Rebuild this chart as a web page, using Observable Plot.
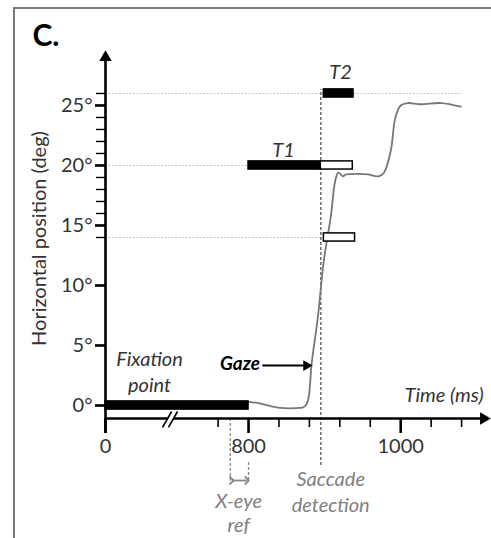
<!DOCTYPE html>
<html>
<head>
<meta charset="utf-8">
<script src="https://cdn.jsdelivr.net/npm/d3@7"></script>
<script src="https://cdn.jsdelivr.net/npm/@observablehq/plot@0.6"></script>
<style>
  html, body { margin: 0; padding: 0; background: #fff; }
  #wrap { position: relative; width: 491px; height: 538px; overflow: hidden; }
  #frame { position: absolute; left: 13px; top: 7px; width: 500px; height: 560px;
           border-left: 2px solid #7a7a7a; border-top: 2.5px solid #7a7a7a; }
  #chart { position: absolute; left: 0; top: 0; }
</style>
</head>
<body>
<div id="wrap"><div id="frame"></div><div id="chart"></div></div>
<script>
// ---- data ----
// gaze trace (time in ms, horizontal position in deg)
const gazeTime = [800, 813, 838, 868, 872, 876, 879, 883, 891, 899, 908, 914, 918, 924, 928, 947, 957, 971, 978, 987, 993, 1000, 1009, 1026, 1053, 1079];
const gazeDeg  = [0.3, 0.2, -0.17, -0.2, -0.15, 0.08, 0.67, 3.5, 7.3, 12.1, 15.7, 18.75, 19.4, 19.1, 19.25, 19.3, 19.25, 19.1, 19.4, 21.25, 24, 25, 25.2, 25.1, 25.2, 24.9];

// targets: solid bars and open boxes
const barNames  = ["Fixation point", "T1", "T1 (after detection)", "T2", "Intermediate"];
const barStart  = [0, 800, 895, 899, 899];
const barEnd    = [800, 895, 937, 938, 940];
const barPos    = [0, 20, 20, 26, 14];
const barFilled = [true, true, false, true, false];

// guide lines (deg) and how far they run (ms)
const guideDeg = [26, 20, 14];
const guideEnd = [1082, 800, 899];

// events
const saccadeDetection = 895;
const xEyeRef = [776, 800];

// ticks
const yMajorTicks = [0, 5, 10, 15, 20, 25];
const yMinorTicks = [14, 16, 17, 18, 19, 21, 22, 23, 24, 26];
const xMajorTicks = [0, 800, 1000];
const xMinorTicks = [760, 840, 880, 920, 960, 1040, 1080];

// ---- tables ----
const gaze = gazeTime.map((t, i) => ({t, deg: gazeDeg[i]}));
const bars = barNames.map((name, i) => ({name, start: barStart[i], end: barEnd[i], pos: barPos[i], filled: barFilled[i]}));
const guides = guideDeg.map((deg, i) => ({deg, end: guideEnd[i]}));

const yAxisBottom = -2.33, yAxisTop = 29.0, xAxisY = -1.083, xAxisEnd = 1109;
const half = 0.34;
const font = "Lato, 'Open Sans', sans-serif";
const fs = 20;

const chart = Plot.plot({
  width: 491, height: 538,
  marginLeft: 105, marginRight: 1, marginTop: 50, marginBottom: 120,
  x: {type: "linear", domain: [0, 760, 1118], range: [105, 217.6, 490]},
  y: {domain: [-1.083, 29.58]},
  style: {fontFamily: font, background: "transparent", overflow: "visible"},
  marks: [
    // guide lines
    Plot.ruleY(guides, {y: "deg", x1: 0, x2: "end", stroke: "#c4c4c4", strokeWidth: 1, strokeDasharray: "2,1.5"}),
    // saccade detection line
    Plot.ruleX([saccadeDetection], {y1: -5.0, y2: 26.3, stroke: "#555", strokeWidth: 1.3, strokeDasharray: "3,2"}),
    // x-eye reference lines
    Plot.ruleX([xEyeRef[0]], {y1: xAxisY, y2: -6.3, stroke: "#888", strokeWidth: 1.3, strokeDasharray: "3,2"}),
    Plot.ruleX([xEyeRef[1]], {y1: -4.75, y2: -6.3, stroke: "#888", strokeWidth: 1.3, strokeDasharray: "3,2"}),
    Plot.link([0], {x1: xEyeRef[0] + 2, x2: xEyeRef[1] - 2, y1: -6.25, y2: -6.25, stroke: "#888", strokeWidth: 1.8, markerStart: "arrow", markerEnd: "arrow"}),
    // gaze trace
    Plot.line(gaze, {x: "t", y: "deg", stroke: "#777", strokeWidth: 1.8, curve: "catmull-rom"}),
    // target bars
    Plot.rect(bars, {x1: "start", x2: "end", y1: d => d.pos - half, y2: d => d.pos + half,
      fill: d => d.filled ? "black" : "white", stroke: "black", strokeWidth: 1.5}),
    // axes lines
    Plot.ruleX([0], {y1: yAxisBottom, y2: yAxisTop, stroke: "black", strokeWidth: 2.6}),
    Plot.ruleY([xAxisY], {x1: 0, x2: xAxisEnd, stroke: "black", strokeWidth: 2.6}),
    Plot.dot([0], {x: 0, y: yAxisTop, symbol: "triangle", r: 4.6, fill: "black", stroke: null}),
    Plot.dot([0], {x: xAxisEnd, y: xAxisY, symbol: "triangle", r: 4.6, fill: "black", stroke: null, rotate: 90}),
    // axis break
    Plot.link([0], {x1: 405, y1: -1.83, x2: 466, y2: -0.5, stroke: "white", strokeWidth: 4}),
    Plot.link([0], {x1: 385, y1: -1.83, x2: 446, y2: -0.5, stroke: "black", strokeWidth: 1.6}),
    Plot.link([0], {x1: 425, y1: -1.83, x2: 486, y2: -0.5, stroke: "black", strokeWidth: 1.6}),
    // y axis ticks
    Plot.axisY(yMajorTicks, {tickSize: 10, tickPadding: 3, tickFormat: d => d + "°", fontSize: fs,
      stroke: "black", strokeWidth: 2.6, fill: "#333", label: null}),
    Plot.axisY(yMinorTicks, {tickSize: 9, tickFormat: () => "", stroke: "black", strokeWidth: 1.4, label: null}),
    // x axis ticks
    Plot.axisX(xMajorTicks, {tickSize: 15, tickPadding: 5, fontSize: fs, stroke: "black", strokeWidth: 2.6,
      fill: "#333", tickFormat: d => String(d), label: null}),
    Plot.axisX(xMinorTicks, {tickSize: 9, tickFormat: () => "", stroke: "black", strokeWidth: 1.6, label: null}),
    // gaze arrow
    Plot.link([0], {x1: 818, x2: 874, y1: 3.33, y2: 3.33, stroke: "black", strokeWidth: 2}),
    Plot.dot([0], {x: 876, y: 3.33, symbol: "triangle", r: 4, fill: "black", stroke: null, rotate: 90}),
    // annotations
    Plot.text(["Gaze"], {x: 815, y: 3.45, textAnchor: "end", fontSize: 19, fontWeight: "bold", fontStyle: "italic", fill: "black"}),
    Plot.text(["Fixation\npoint"], {x: 297, y: 2.92, fontSize: fs, fontStyle: "italic", fill: "#333", lineHeight: 1.3}),
    Plot.text(["T1"], {x: 846, y: 21.25, fontSize: fs, fontStyle: "italic", fill: "#333"}),
    Plot.text(["T2"], {x: 921, y: 27.75, fontSize: fs, fontStyle: "italic", fill: "#333"}),
    Plot.text(["Time (ms)"], {x: 1109, y: 0.83, textAnchor: "end", fontSize: fs, fontStyle: "italic", fill: "#333"}),
    Plot.text(["Saccade\ndetection"], {x: 908, y: -7.08, fontSize: fs, fontStyle: "italic", fill: "#808080", lineHeight: 1.3}),
    Plot.text(["X-eye\nref"], {x: 787, y: -8.92, fontSize: fs, fontStyle: "italic", fill: "#808080", lineHeight: 1.2}),
    // panel letter and y label
    Plot.text(["C."], {frameAnchor: "top-left", dx: -73, dy: -14, textAnchor: "start", lineAnchor: "middle",
      fontSize: 30, fontWeight: "bold", fill: "black"}),
    Plot.text(["Horizontal position (deg)"], {frameAnchor: "left", dx: -66, dy: 4, rotate: -90,
      textAnchor: "middle", lineAnchor: "middle", fontSize: fs, fill: "#333"})
  ]
});
document.getElementById("chart").appendChild(chart);
</script>
</body>
</html>
